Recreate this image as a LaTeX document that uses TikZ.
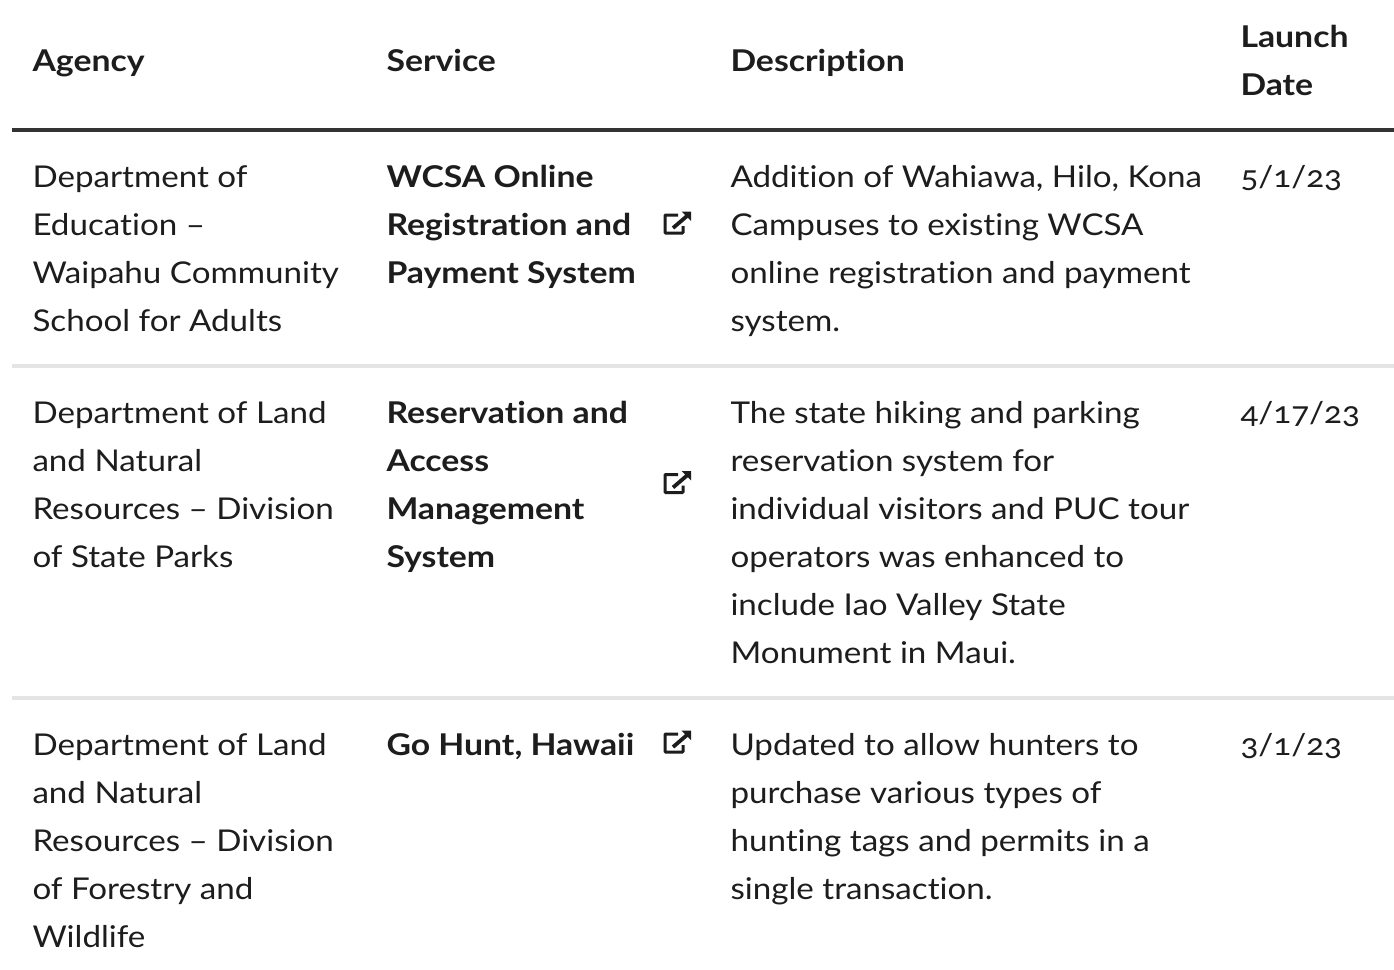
\documentclass[tikz,border=0pt]{standalone}
\usepackage{fontspec}
\setmainfont{Lato}[FakeStretch=1.105,Ligatures=NoCommon]
\newfontfamily\numfont[Numbers=OldStyle,FakeStretch=1.105]{Lato}
\newfontfamily\boldfont[FakeStretch=1.125,Ligatures=NoCommon]{Lato Bold}
\definecolor{ink}{HTML}{1D1D1D}
\definecolor{rulehead}{HTML}{333333}
\definecolor{rulerow}{HTML}{E4E4E4}
\tikzset{x=1pt,y=-1pt,
 cell/.style={anchor=base west,inner sep=0pt,outer sep=0pt,text=ink,font=\fontsize{30}{30}\selectfont},
 bcell/.style={cell,font=\fontsize{30}{30}\boldfont},
 dcell/.style={cell,font=\fontsize{30}{30}\numfont},
 extlink/.pic={\draw[ink,line width=3pt,rounded corners=0.8pt] (13,-10) -- (0,-10) -- (0,8) -- (18,8) -- (18,1);
  \draw[ink,line width=3.8pt] (8,3) -- (22,-9);
  \fill[ink] (16.5,-13.5) -- (26,-13.5) -- (26,-4) -- cycle;}}
\begin{document}
\begin{tikzpicture}
\useasboundingbox (0,0) rectangle (1394,969);
\fill[white] (0,0) rectangle (1394,969);
\draw[rulehead,line width=4pt] (12,130) -- (1394,130);
\draw[rulerow,line width=4pt] (12,366) -- (1394,366);
\draw[rulerow,line width=4pt] (12,698) -- (1394,698);
\node[bcell] (h1) at (32.5,71) {Agency};
\node[bcell] (h2) at (386.5,71) {Service};
\node[bcell] (h3) at (730.5,71) {Description};
\node[bcell] (h4a) at (1240.5,47) {Launch};
\node[bcell] (h4b) at (1240.5,95) {Date};
\node[cell] (a1) at (32.5,187) {Department of};
\node[cell] (a2) at (32.5,235) {Education --};
\node[cell] (a3) at (32.5,283) {Waipahu Community};
\node[cell] (a4) at (32.5,331) {School for Adults};
\node[bcell] (s1) at (386.5,187) {WCSA Online};
\node[bcell] (s2) at (386.5,235) {Registration and};
\node[bcell] (s3) at (386.5,283) {Payment System};
\node[cell] (d1) at (730.5,187) {Addition of Wahiawa, Hilo, Kona};
\node[cell] (d2) at (730.5,235) {Campuses to existing WCSA};
\node[cell] (d3) at (730.5,283) {online registration and payment};
\node[cell] (d4) at (730.5,331) {system.};
\node[dcell] (t1) at (1240.5,187) {5/1/23};
\node[cell] (b1) at (32.5,423) {Department of Land};
\node[cell] (b2) at (32.5,471) {and Natural};
\node[cell] (b3) at (32.5,519) {Resources -- Division};
\node[cell] (b4) at (32.5,567) {of State Parks};
\node[bcell] (r1) at (386.5,423) {Reservation and};
\node[bcell] (r2) at (386.5,471) {Access};
\node[bcell] (r3) at (386.5,519) {Management};
\node[bcell] (r4) at (386.5,567) {System};
\node[cell] (e1) at (730.5,423) {The state hiking and parking};
\node[cell] (e2) at (730.5,471) {reservation system for};
\node[cell] (e3) at (730.5,519) {individual visitors and PUC tour};
\node[cell] (e4) at (730.5,567) {operators was enhanced to};
\node[cell] (e5) at (730.5,615) {include Iao Valley State};
\node[cell] (e6) at (730.5,663) {Monument in Maui.};
\node[dcell] (t2) at (1240.5,423) {4/17/23};
\node[cell] (c1) at (32.5,755) {Department of Land};
\node[cell] (c2) at (32.5,803) {and Natural};
\node[cell] (c3) at (32.5,851) {Resources -- Division};
\node[cell] (c4) at (32.5,899) {of Forestry and};
\node[cell] (c5) at (32.5,947) {Wildlife};
\node[bcell] (g1) at (386.5,755) {Go Hunt, Hawaii};
\node[cell] (f1) at (730.5,755) {Updated to allow hunters to};
\node[cell] (f2) at (730.5,803) {purchase various types of};
\node[cell] (f3) at (730.5,851) {hunting tags and permits in a};
\node[cell] (f4) at (730.5,899) {single transaction.};
\node[dcell] (t3) at (1240.5,755) {3/1/23};
\pic at (665,225) {extlink};
\pic at (665,484.5) {extlink};
\pic at (665,744) {extlink};
\end{tikzpicture}
\end{document}
